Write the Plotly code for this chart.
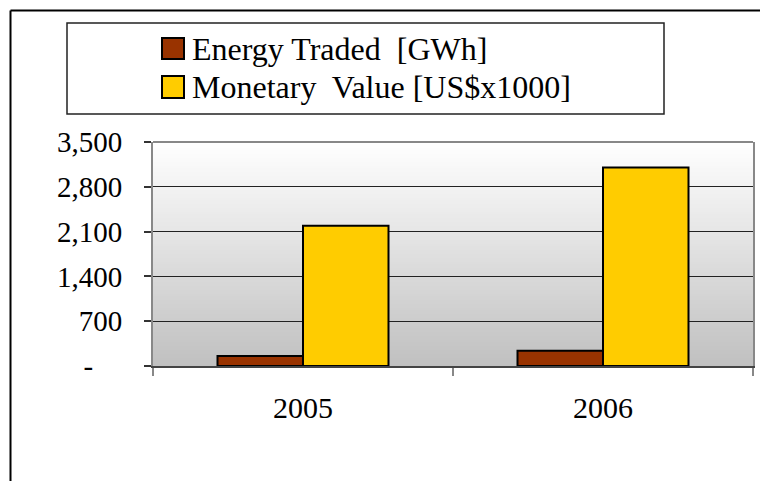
import plotly.graph_objects as go

# data
years = ["2005", "2006"]
energy_gwh = [158, 238]
monetary_kusd = [2190, 3102]
series_names = ["Energy Traded  [GWh]", "Monetary  Value [US$x1000]"]
series_colors = ["#993300", "#FFCC00"]
y_tickvals = [0, 700, 1400, 2100, 2800, 3500]
y_ticktext = ["-\u00a0\u00a0\u00a0\u00a0", "700", "1,400", "2,100", "2,800", "3,500"]

FONT = "Times New Roman, Liberation Serif, serif"

fig = go.Figure()
for name, vals, col in zip(series_names, [energy_gwh, monetary_kusd], series_colors):
    fig.add_trace(go.Bar(
        x=years, y=vals, name=name,
        marker=dict(color=col, line=dict(color="black", width=2)),
        showlegend=False,
    ))

# the page body has an 8px margin, so work in page pixels minus 8
OFF = 8
W, H = 768 - OFF, 481 - OFF
# plot area 153..753 x 142..366 page px
L, R, T, B = 153 - OFF, 15, 142 - OFF, 115
pw, ph = W - L - R, H - T - B


def px(x):
    return (x - OFF - L) / pw


def py(y):
    return (H - B - (y - OFF)) / ph


shapes = []

# grey vertical gradient behind the bars
n = 112
for i in range(n):
    f = (i + 0.5) / n
    c = round(255 - 63 * f)
    shapes.append(dict(type="rect", xref="x domain", yref="y domain",
                       x0=0, x1=1, y0=1 - (i + 1) / n, y1=1 - i / n,
                       fillcolor=f"rgb({c},{c},{c})", line=dict(width=0),
                       layer="below"))

# top border of plot area
shapes.append(dict(type="line", xref="x domain", yref="y domain",
                   x0=0, x1=1, y0=1, y1=1, line=dict(color="#888888", width=2)))

# outer frame (top and left edge)
shapes.append(dict(type="line", xref="paper", yref="paper",
                   x0=px(10.5), x1=px(780), y0=py(10.5), y1=py(10.5),
                   line=dict(color="black", width=2)))
shapes.append(dict(type="line", xref="paper", yref="paper",
                   x0=px(10.5), x1=px(10.5), y0=py(10.5), y1=py(495),
                   line=dict(color="black", width=2)))

# legend box
shapes.append(dict(type="rect", xref="paper", yref="paper",
                   x0=px(67), x1=px(664), y0=py(114), y1=py(23),
                   line=dict(color="#222222", width=1.5), fillcolor="white"))

annotations = []
legend_rows = [(38, 59), (76, 98)]
for (top, bot), name, col in zip(legend_rows, series_names, series_colors):
    shapes.append(dict(type="rect", xref="paper", yref="paper",
                       x0=px(162), x1=px(184), y0=py(bot), y1=py(top),
                       fillcolor=col, line=dict(color="black", width=2)))
    annotations.append(dict(xref="paper", yref="paper", x=px(190), y=py((top + bot) / 2),
                            text=name.replace("  ", "\u00a0 "), showarrow=False,
                            xanchor="left", yanchor="middle",
                            font=dict(family=FONT, size=32, color="black")))

fig.update_layout(
    width=W, height=H,
    margin=dict(l=L, r=R, t=T, b=B, autoexpand=False),
    paper_bgcolor="white",
    plot_bgcolor="rgba(0,0,0,0)",
    barmode="group",
    bargap=0.43,
    bargroupgap=0,
    font=dict(family=FONT, size=29, color="black"),
    shapes=shapes,
    annotations=annotations,
    showlegend=False,
)

fig.update_xaxes(
    showline=True, linecolor="#444444", linewidth=2,
    ticks="outside", tickson="boundaries", ticklen=8, tickcolor="#888888", tickwidth=1.5,
    ticklabelstandoff=14,
    showgrid=False,
    tickfont=dict(family=FONT, size=30, color="black"),
)
fig.update_yaxes(
    range=[0, 3500],
    tickvals=y_tickvals, ticktext=y_ticktext,
    showline=True, linecolor="#888888", linewidth=2, mirror=True,
    ticks="outside", ticklen=7, tickcolor="#333333", tickwidth=1.5,
    ticklabelstandoff=16,
    showgrid=True, gridcolor="#222222", gridwidth=1,
    zeroline=False,
    tickfont=dict(family=FONT, size=29, color="black"),
)

fig.write_html("out.html")
